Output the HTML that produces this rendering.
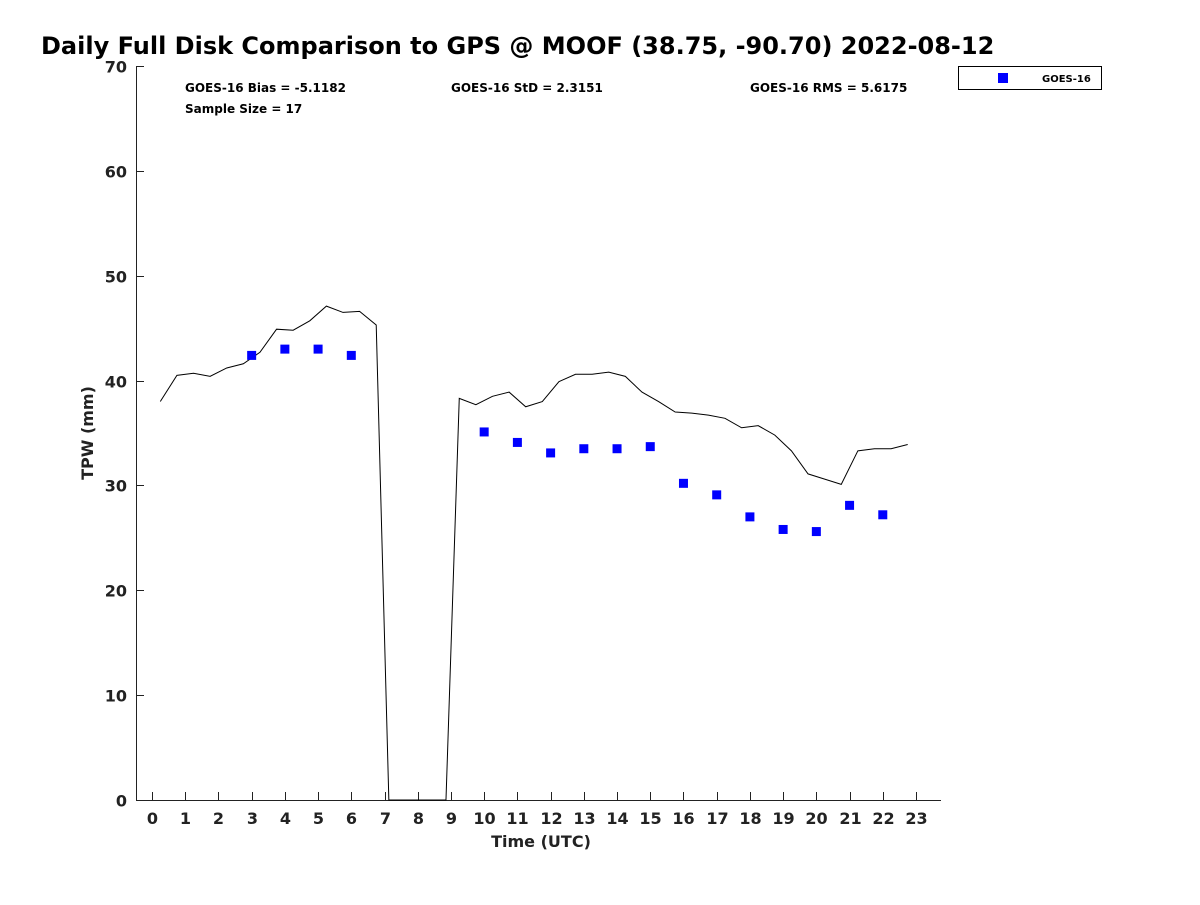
<!DOCTYPE html>
<html><head><meta charset="utf-8"><style>
body{margin:0;background:#fff;font-family:"Liberation Sans","DejaVu Sans",sans-serif;}
svg text{font-family:"DejaVu Sans","Liberation Sans",sans-serif;font-weight:bold;}
</style></head><body>
<svg id="chart" width="1200" height="900" xmlns="http://www.w3.org/2000/svg">
<rect width="1200" height="900" fill="#fff"/>
<text x="41" y="54" font-size="24" fill="#000">Daily Full Disk Comparison to GPS @ MOOF (38.75, -90.70) 2022-08-12</text>
<text x="185" y="92" font-size="12">GOES-16 Bias = -5.1182</text>
<text x="451" y="92" font-size="12">GOES-16 StD = 2.3151</text>
<text x="750" y="92" font-size="12">GOES-16 RMS = 5.6175</text>
<text x="185" y="113" font-size="12">Sample Size = 17</text>
<g>
<rect x="958.5" y="66.5" width="143" height="23" fill="#fff" stroke="#000"/>
<rect x="998" y="73" width="10" height="10" fill="#0000ff"/>
<text x="1042" y="82" font-size="10">GOES-16</text>
</g>
<g id="axes"></g>
<g id="marks"></g>
<text x="541" y="847" font-size="16" text-anchor="middle" fill="#222">Time (UTC)</text>
<text transform="translate(93,433) rotate(-90)" font-size="16" text-anchor="middle" fill="#222">TPW (mm)</text>
</svg>
<script>
const gpsTimes=[0.25,0.75,1.25,1.75,2.25,2.75,3.25,3.75,4.25,4.75,5.25,5.75,6.25,6.75,7.13,8.85,9.25,9.75,10.25,10.75,11.25,11.75,12.25,12.75,13.25,13.75,14.25,14.75,15.25,15.75,16.25,16.75,17.25,17.75,18.25,18.75,19.25,19.75,20.25,20.75,21.25,21.75,22.25,22.75];
const gpsValues=[38.0,40.5,40.7,40.4,41.2,41.6,42.7,44.9,44.8,45.7,47.1,46.5,46.6,45.3,0,0,38.3,37.7,38.5,38.9,37.5,38.0,39.9,40.6,40.6,40.8,40.4,38.9,38.0,37.0,36.9,36.7,36.4,35.5,35.7,34.8,33.3,31.1,30.6,30.1,33.3,33.5,33.5,33.9];
const goesTimes=[3,4,5,6,10,11,12,13,14,15,16,17,18,19,20,21,22];
const goesValues=[42.4,43.0,43.0,42.4,35.1,34.1,33.1,33.5,33.5,33.7,30.2,29.1,27.0,25.8,25.6,28.1,27.2];
const xTicks=[0,1,2,3,4,5,6,7,8,9,10,11,12,13,14,15,16,17,18,19,20,21,22,23];
const yTicks=[0,10,20,30,40,50,60,70];
const NS="http://www.w3.org/2000/svg";
const xs=h=>152+h*(916-152)/23;
const ys=v=>800-v*(800-66)/70;
const axes=document.getElementById('axes'),marks=document.getElementById('marks');
function mk(tag,attrs,parent){const e=document.createElementNS(NS,tag);for(const k in attrs)e.setAttribute(k,attrs[k]);parent.appendChild(e);return e;}
let a=mk('path',{d:'M136.5 66 V800.5 H941',stroke:'#222',fill:'none','stroke-width':1},axes);


xTicks.forEach(t=>{const x=Math.round(xs(t))+0.5;
 const l=mk('line',{x1:x,x2:x,y1:800,y2:792,stroke:'#222'},axes);
 
 
 const tx=mk('text',{x:x,y:824,'font-size':16,'text-anchor':'middle',fill:'#222'},axes);tx.textContent=t;
 
 });
yTicks.forEach(t=>{const y=Math.round(ys(t))+0.5;
 const l=mk('line',{x1:136,x2:144,y1:y,y2:y,stroke:'#222'},axes);
 
 
 const tx=mk('text',{x:127,y:y+6,'font-size':16,'text-anchor':'end',fill:'#222'},axes);tx.textContent=t;
 
 });
const p=mk('polyline',{points:gpsTimes.map((t,i)=>xs(t)+','+ys(gpsValues[i])).join(' '),fill:'none',stroke:'#000','stroke-width':1},marks);


goesTimes.forEach((t,i)=>{const r=mk('rect',{x:xs(t)-4.5,y:ys(goesValues[i])-4.5,width:9,height:9,fill:'#0000ff'},marks);
 
 });
</script>
</body></html>
